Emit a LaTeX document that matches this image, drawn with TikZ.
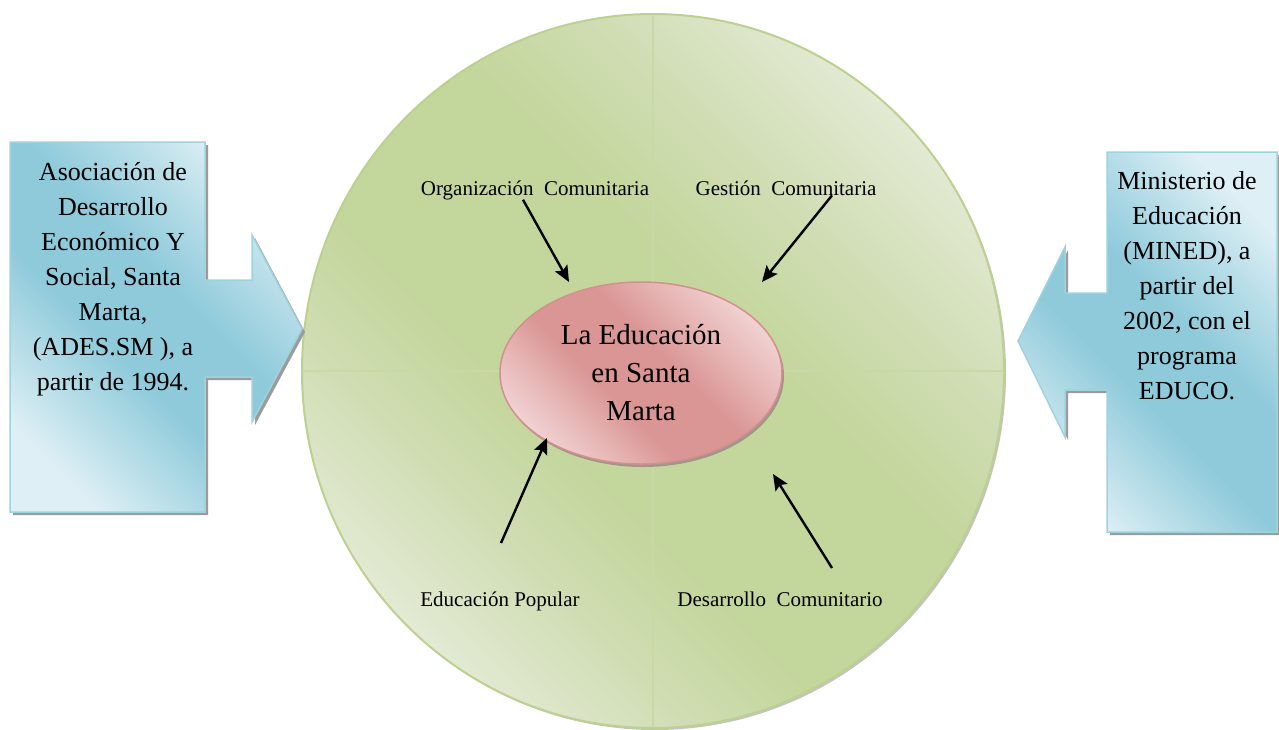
\documentclass[tikz,border=0pt]{standalone}
\usepackage{fontspec}
\setmainfont{Liberation Serif}
\usetikzlibrary{shapes.geometric,arrows.meta}
\definecolor{blueDark}{HTML}{8FCADB}
\definecolor{blueMid}{HTML}{B4DCE7}
\definecolor{blueLight}{HTML}{DEEFF5}
\definecolor{blueBorder}{HTML}{9ED2DF}
\definecolor{greenDark}{HTML}{C3D69B}
\definecolor{greenMid}{HTML}{D0DDB3}
\definecolor{greenLight}{HTML}{E2EAD3}
\definecolor{greenBorder}{HTML}{BCD190}
\definecolor{quadLine}{HTML}{C8D9A6}
\definecolor{pinkDark}{HTML}{D99694}
\definecolor{pinkMid}{HTML}{E5B3B2}
\definecolor{pinkLight}{HTML}{F1D3D3}
\definecolor{pinkBorder}{HTML}{D4908E}
\definecolor{shadowGray}{HTML}{9B9B9B}
\pgfdeclareverticalshading{greenfield}{100bp}{color(0bp)=(greenLight); color(25bp)=(greenLight); color(34bp)=(greenMid); color(42bp)=(greenDark); color(56bp)=(greenDark); color(65bp)=(greenMid); color(75bp)=(greenLight); color(100bp)=(greenLight)}
\pgfdeclareverticalshading{bluefield}{100bp}{color(0bp)=(blueLight); color(24bp)=(blueLight); color(34bp)=(blueMid); color(43bp)=(blueDark); color(56bp)=(blueDark); color(66bp)=(blueMid); color(76bp)=(blueLight); color(100bp)=(blueLight)}
\pgfdeclareverticalshading{pinkfield}{100bp}{color(0bp)=(pinkLight); color(24bp)=(pinkLight); color(34bp)=(pinkMid); color(42bp)=(pinkDark); color(56bp)=(pinkDark); color(65bp)=(pinkMid); color(76bp)=(pinkLight); color(100bp)=(pinkLight)}
\tikzset{
  calloutshape/.style={draw=blueBorder, line width=1.5pt, shading=bluefield, shading angle=-45},
  shadowshape/.style={fill=shadowGray},
  boxtext/.style={align=center, inner sep=0pt, font=\fontsize{26}{35}\selectfont, anchor=base},
  lbl/.style={inner sep=0pt, font=\fontsize{21}{25}\selectfont, anchor=base},
  arr/.style={line width=2.4pt, -{Stealth[length=16pt,width=14pt,inset=3pt]}},
  centre/.style={ellipse, minimum width=282pt, minimum height=182pt, inner sep=0pt, draw=pinkBorder, line width=1.5pt,
     shading=pinkfield, shading angle=-45,
     align=center, font=\fontsize{29}{38}\selectfont}
}
\begin{document}
\begin{tikzpicture}[x=1pt,y=-1pt]
\useasboundingbox (0,0) rectangle (1279,729);
% big circle
\fill[shadowGray!60] (655,373) ellipse [x radius=351, y radius=357];
\path[draw=greenBorder, line width=2pt, shading=greenfield, shading angle=-45]
  (653,371) ellipse [x radius=351, y radius=357];
\begin{scope}
  \clip (653,371) ellipse [x radius=350, y radius=356];
  \draw[quadLine, line width=2pt] (653,10) -- (653,732);
  \draw[quadLine, line width=2pt] (298,371) -- (1008,371);
\end{scope}
% left callout
\fill[shadowshape] (13,145) -- (208,145) -- (208,283) -- (255,283) -- (255,238) -- (305,332) -- (255,425) -- (255,380) -- (208,380) -- (208,515) -- (13,515) -- cycle;
\path[calloutshape] (10,142) -- (205,142) -- (205,280) -- (252,280) -- (252,235) -- (302,329) -- (252,422) -- (252,377) -- (205,377) -- (205,512) -- (10,512) -- cycle;
% right callout
\fill[shadowshape] (1110,155) -- (1280,155) -- (1280,535) -- (1110,535) -- (1110,393) -- (1068,393) -- (1068,440) -- (1021,344) -- (1068,250) -- (1068,296) -- (1110,296) -- cycle;
\path[calloutshape] (1107,152) -- (1277,152) -- (1277,532) -- (1107,532) -- (1107,390) -- (1065,390) -- (1065,437) -- (1018,341) -- (1065,247) -- (1065,293) -- (1107,293) -- cycle;
\node[boxtext] (ades) at (113,390) {Asociación de\\Desarrollo\\Económico Y\\Social, Santa\\Marta,\\(ADES.SM ), a\\partir de 1994.};
\node[boxtext] (mined) at (1187,399) {Ministerio de\\Educación\\(MINED), a\\partir del\\2002, con el\\programa\\EDUCO.};
% centre ellipse
\fill[shadowGray!80!brown] (643,376) ellipse [x radius=141, y radius=91];
\node[centre] (edu) at (641,373) {La Educación\\en Santa\\Marta};
% labels
\node[lbl] (org) at (535,195) {Organización\ \ Comunitaria};
\node[lbl] (gest) at (786,195) {Gestión\ \ Comunitaria};
\node[lbl] (pop) at (500,606) {Educación Popular};
\node[lbl] (des) at (780,606) {Desarrollo\ \ Comunitario};
% arrows
\coordinate (orgTip) at (569,282);
\coordinate (gestTip) at (762,282);
\coordinate (popTail) at (501,543);
\coordinate (popTip) at (547,438);
\coordinate (desTail) at (832,568);
\coordinate (desTip) at (773,474);
\draw[arr] ([xshift=-12pt]org.south) -- (orgTip);
\draw[arr] ([xshift=46pt]gest.south) -- (gestTip);
\draw[arr] (popTail) -- (popTip);
\draw[arr] (desTail) -- (desTip);
\end{tikzpicture}
\end{document}
